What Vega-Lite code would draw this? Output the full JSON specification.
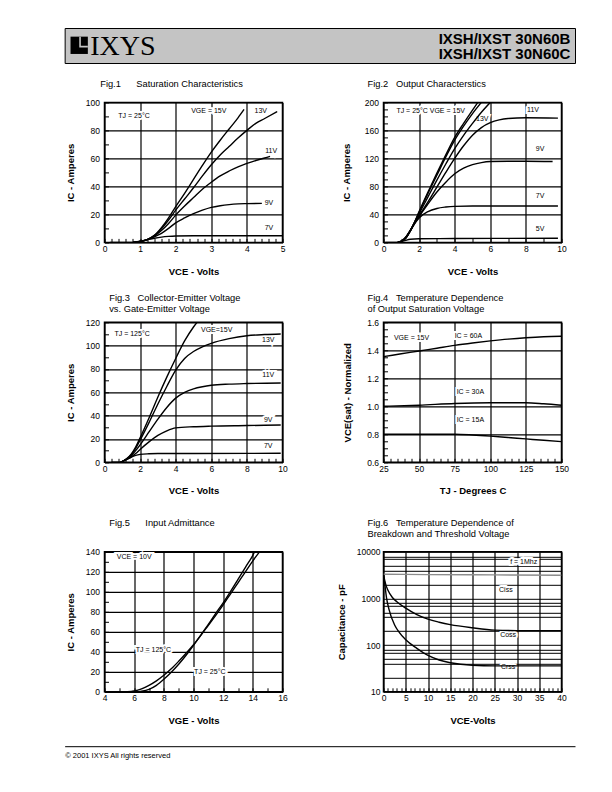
{
"$schema":"https://vega.github.io/schema/vega-lite/v6.json",
"background":"white",
"padding":{"left":64.5,"top":27.5,"right":0,"bottom":0},
"spacing":14.9,
"datasets":{
"f1":[
{"s":"15V","x":0.15,"y":0},{"s":"15V","x":0.8,"y":0},{"s":"15V","x":1.0,"y":0.6},{"s":"15V","x":1.2,"y":2},{"s":"15V","x":1.4,"y":5},{"s":"15V","x":1.6,"y":10.5},{"s":"15V","x":1.8,"y":17.5},{"s":"15V","x":2.0,"y":25.5},{"s":"15V","x":2.25,"y":35},{"s":"15V","x":2.5,"y":45},{"s":"15V","x":2.75,"y":55},{"s":"15V","x":3.0,"y":64.5},{"s":"15V","x":3.25,"y":73},{"s":"15V","x":3.5,"y":81},{"s":"15V","x":3.75,"y":89},{"s":"15V","x":3.92,"y":95},
{"s":"13V","x":0.8,"y":0},{"s":"13V","x":1.0,"y":0.6},{"s":"13V","x":1.2,"y":2},{"s":"13V","x":1.4,"y":4.8},{"s":"13V","x":1.6,"y":9.8},{"s":"13V","x":1.8,"y":16},{"s":"13V","x":2.0,"y":23},{"s":"13V","x":2.25,"y":31},{"s":"13V","x":2.5,"y":39},{"s":"13V","x":2.75,"y":47.5},{"s":"13V","x":3.0,"y":55.5},{"s":"13V","x":3.25,"y":62.5},{"s":"13V","x":3.5,"y":68.5},{"s":"13V","x":3.75,"y":74.5},{"s":"13V","x":4.0,"y":80},{"s":"13V","x":4.25,"y":85},{"s":"13V","x":4.5,"y":88.5},{"s":"13V","x":4.85,"y":93.5},
{"s":"11V","x":0.8,"y":0},{"s":"11V","x":1.0,"y":0.6},{"s":"11V","x":1.2,"y":2},{"s":"11V","x":1.4,"y":4.5},{"s":"11V","x":1.6,"y":8.5},{"s":"11V","x":1.8,"y":13.5},{"s":"11V","x":2.0,"y":19.5},{"s":"11V","x":2.25,"y":26},{"s":"11V","x":2.5,"y":32},{"s":"11V","x":2.75,"y":38},{"s":"11V","x":3.0,"y":43},{"s":"11V","x":3.25,"y":47.5},{"s":"11V","x":3.5,"y":51},{"s":"11V","x":3.75,"y":54},{"s":"11V","x":4.0,"y":56.5},{"s":"11V","x":4.25,"y":58.5},{"s":"11V","x":4.5,"y":60.3},{"s":"11V","x":4.65,"y":61.5},
{"s":"9V","x":0.8,"y":0},{"s":"9V","x":1.0,"y":0.6},{"s":"9V","x":1.2,"y":2},{"s":"9V","x":1.4,"y":4},{"s":"9V","x":1.6,"y":6.5},{"s":"9V","x":1.8,"y":10},{"s":"9V","x":2.0,"y":14},{"s":"9V","x":2.25,"y":17.5},{"s":"9V","x":2.5,"y":20.5},{"s":"9V","x":2.75,"y":23},{"s":"9V","x":3.0,"y":25},{"s":"9V","x":3.25,"y":26.2},{"s":"9V","x":3.5,"y":27},{"s":"9V","x":3.75,"y":27.5},{"s":"9V","x":4.0,"y":27.7},{"s":"9V","x":4.42,"y":27.9},
{"s":"7V","x":0.8,"y":0},{"s":"7V","x":1.0,"y":0.8},{"s":"7V","x":1.2,"y":2},{"s":"7V","x":1.4,"y":3},{"s":"7V","x":1.6,"y":3.8},{"s":"7V","x":1.8,"y":4.3},{"s":"7V","x":2.0,"y":4.6},{"s":"7V","x":2.5,"y":4.8},{"s":"7V","x":3.0,"y":4.8},{"s":"7V","x":4.0,"y":4.8},{"s":"7V","x":5.0,"y":4.8}
],
"f1t":[
{"label":"TJ = 25°C","x":0.83,"y":90.5},{"label":"VGE = 15V","x":2.93,"y":93.6},{"label":"13V","x":4.39,"y":93.6},{"label":"11V","x":4.68,"y":65.6},{"label":"9V","x":4.62,"y":28.5},{"label":"7V","x":4.62,"y":10}
],
"f2":[
{"s":"a","x":0.1,"y":0},{"s":"a","x":0.8,"y":0},{"s":"a","x":1.0,"y":1.5},{"s":"a","x":1.25,"y":6},{"s":"a","x":1.5,"y":16},{"s":"a","x":1.75,"y":29},{"s":"a","x":2.0,"y":44},{"s":"a","x":2.5,"y":72},{"s":"a","x":3.0,"y":99},{"s":"a","x":3.5,"y":125},{"s":"a","x":4.0,"y":150},{"s":"a","x":4.5,"y":170},{"s":"a","x":5.0,"y":189},{"s":"a","x":5.3,"y":200},
{"s":"b","x":0.8,"y":0},{"s":"b","x":1.0,"y":1.5},{"s":"b","x":1.25,"y":6},{"s":"b","x":1.5,"y":16},{"s":"b","x":1.75,"y":29},{"s":"b","x":2.0,"y":43},{"s":"b","x":2.5,"y":70},{"s":"b","x":3.0,"y":96},{"s":"b","x":3.5,"y":122},{"s":"b","x":4.0,"y":146},{"s":"b","x":4.5,"y":166},{"s":"b","x":5.0,"y":184},{"s":"b","x":5.5,"y":200},
{"s":"13V","x":0.8,"y":0},{"s":"13V","x":1.0,"y":1.5},{"s":"13V","x":1.25,"y":6.5},{"s":"13V","x":1.5,"y":16.5},{"s":"13V","x":1.75,"y":29},{"s":"13V","x":2.0,"y":41},{"s":"13V","x":2.5,"y":65},{"s":"13V","x":3.0,"y":89},{"s":"13V","x":3.5,"y":112},{"s":"13V","x":4.0,"y":134},{"s":"13V","x":4.5,"y":153},{"s":"13V","x":5.0,"y":170},{"s":"13V","x":5.5,"y":186},{"s":"13V","x":6.0,"y":200},
{"s":"11V","x":0.8,"y":0},{"s":"11V","x":1.0,"y":1.6},{"s":"11V","x":1.25,"y":7},{"s":"11V","x":1.5,"y":17},{"s":"11V","x":1.75,"y":28},{"s":"11V","x":2.0,"y":38},{"s":"11V","x":2.5,"y":58},{"s":"11V","x":3.0,"y":79},{"s":"11V","x":3.5,"y":100},{"s":"11V","x":4.0,"y":120},{"s":"11V","x":4.5,"y":138},{"s":"11V","x":5.0,"y":153},{"s":"11V","x":5.5,"y":164},{"s":"11V","x":6.0,"y":171},{"s":"11V","x":6.5,"y":175},{"s":"11V","x":7.0,"y":177},{"s":"11V","x":8.0,"y":178},{"s":"11V","x":9.8,"y":177.5},
{"s":"9V","x":0.8,"y":0},{"s":"9V","x":1.0,"y":1.7},{"s":"9V","x":1.25,"y":7.5},{"s":"9V","x":1.5,"y":17},{"s":"9V","x":1.75,"y":27},{"s":"9V","x":2.0,"y":37},{"s":"9V","x":2.5,"y":55},{"s":"9V","x":3.0,"y":72},{"s":"9V","x":3.5,"y":86},{"s":"9V","x":4.0,"y":98},{"s":"9V","x":4.5,"y":106},{"s":"9V","x":5.0,"y":111},{"s":"9V","x":5.5,"y":114},{"s":"9V","x":6.0,"y":115.5},{"s":"9V","x":7.0,"y":116},{"s":"9V","x":8.0,"y":116},{"s":"9V","x":9.5,"y":115.5},
{"s":"7V","x":0.8,"y":0},{"s":"7V","x":1.0,"y":1.8},{"s":"7V","x":1.25,"y":7.5},{"s":"7V","x":1.5,"y":16},{"s":"7V","x":1.75,"y":27},{"s":"7V","x":2.0,"y":35},{"s":"7V","x":2.5,"y":44},{"s":"7V","x":3.0,"y":48.5},{"s":"7V","x":3.5,"y":50.5},{"s":"7V","x":4.0,"y":51.5},{"s":"7V","x":5.0,"y":52},{"s":"7V","x":7.0,"y":52},{"s":"7V","x":9.8,"y":52},
{"s":"5V","x":0.8,"y":0},{"s":"5V","x":1.0,"y":1},{"s":"5V","x":1.25,"y":3},{"s":"5V","x":1.5,"y":4.5},{"s":"5V","x":2.0,"y":5.2},{"s":"5V","x":4.0,"y":5.5},{"s":"5V","x":9.8,"y":6}
],
"f2t":[
{"label":"TJ = 25°C VGE = 15V","x":2.65,"y":188},{"label":"13V","x":5.55,"y":176},{"label":"11V","x":8.4,"y":189},{"label":"9V","x":8.8,"y":133},{"label":"7V","x":8.8,"y":66.5},{"label":"5V","x":8.8,"y":18.6}
],
"f3":[
{"s":"15V","x":0.4,"y":0},{"s":"15V","x":0.9,"y":0},{"s":"15V","x":1.2,"y":2.5},{"s":"15V","x":1.5,"y":7},{"s":"15V","x":1.75,"y":13},{"s":"15V","x":2.0,"y":21},{"s":"15V","x":2.5,"y":38},{"s":"15V","x":3.0,"y":56},{"s":"15V","x":3.5,"y":73},{"s":"15V","x":4.0,"y":89},{"s":"15V","x":4.5,"y":104},{"s":"15V","x":5.0,"y":116},{"s":"15V","x":5.2,"y":120},
{"s":"13V","x":0.9,"y":0},{"s":"13V","x":1.2,"y":2.4},{"s":"13V","x":1.5,"y":6.5},{"s":"13V","x":1.75,"y":12},{"s":"13V","x":2.0,"y":19},{"s":"13V","x":2.5,"y":34},{"s":"13V","x":3.0,"y":50},{"s":"13V","x":3.5,"y":65},{"s":"13V","x":4.0,"y":79},{"s":"13V","x":4.5,"y":89},{"s":"13V","x":5.0,"y":95},{"s":"13V","x":5.5,"y":99},{"s":"13V","x":6.0,"y":102},{"s":"13V","x":7.0,"y":106},{"s":"13V","x":8.0,"y":108.5},{"s":"13V","x":9.0,"y":109.5},{"s":"13V","x":9.9,"y":110},
{"s":"11V","x":0.9,"y":0},{"s":"11V","x":1.2,"y":2.3},{"s":"11V","x":1.5,"y":5.5},{"s":"11V","x":1.75,"y":10},{"s":"11V","x":2.0,"y":15},{"s":"11V","x":2.5,"y":26},{"s":"11V","x":3.0,"y":37},{"s":"11V","x":3.5,"y":47},{"s":"11V","x":4.0,"y":55},{"s":"11V","x":4.5,"y":60},{"s":"11V","x":5.0,"y":63},{"s":"11V","x":5.5,"y":64.8},{"s":"11V","x":6.0,"y":66},{"s":"11V","x":7.0,"y":67},{"s":"11V","x":8.0,"y":67.5},{"s":"11V","x":9.9,"y":68},
{"s":"9V","x":0.9,"y":0},{"s":"9V","x":1.2,"y":2.2},{"s":"9V","x":1.5,"y":4.5},{"s":"9V","x":1.75,"y":7.5},{"s":"9V","x":2.0,"y":11},{"s":"9V","x":2.5,"y":17.5},{"s":"9V","x":3.0,"y":23},{"s":"9V","x":3.5,"y":27},{"s":"9V","x":4.0,"y":29.5},{"s":"9V","x":5.0,"y":30.5},{"s":"9V","x":6.0,"y":31},{"s":"9V","x":8.0,"y":31.5},{"s":"9V","x":9.9,"y":32},
{"s":"7V","x":0.9,"y":0},{"s":"7V","x":1.2,"y":2},{"s":"7V","x":1.5,"y":4.5},{"s":"7V","x":1.75,"y":6},{"s":"7V","x":2.0,"y":6.8},{"s":"7V","x":2.5,"y":7.3},{"s":"7V","x":3.0,"y":7.5},{"s":"7V","x":5.0,"y":7.5},{"s":"7V","x":9.9,"y":7.8}
],
"f3t":[
{"label":"TJ = 125°C","x":1.55,"y":110},{"label":"VGE=15V","x":6.3,"y":113},{"label":"13V","x":9.2,"y":104.6},{"label":"11V","x":9.2,"y":74.6},{"label":"9V","x":9.2,"y":36},{"label":"7V","x":9.2,"y":13.7}
],
"f4":[
{"s":"60A","x":25,"y":1.355},{"s":"60A","x":37.5,"y":1.375},{"s":"60A","x":50,"y":1.395},{"s":"60A","x":62.5,"y":1.415},{"s":"60A","x":75,"y":1.435},{"s":"60A","x":87.5,"y":1.452},{"s":"60A","x":100,"y":1.467},{"s":"60A","x":112.5,"y":1.48},{"s":"60A","x":125,"y":1.49},{"s":"60A","x":137.5,"y":1.497},{"s":"60A","x":150,"y":1.5},
{"s":"30A","x":25,"y":1.0},{"s":"30A","x":50,"y":1.008},{"s":"30A","x":75,"y":1.02},{"s":"30A","x":100,"y":1.025},{"s":"30A","x":125,"y":1.025},{"s":"30A","x":137.5,"y":1.018},{"s":"30A","x":150,"y":1.008},
{"s":"15A","x":25,"y":0.8},{"s":"15A","x":50,"y":0.8},{"s":"15A","x":75,"y":0.8},{"s":"15A","x":87.5,"y":0.795},{"s":"15A","x":100,"y":0.787},{"s":"15A","x":112.5,"y":0.777},{"s":"15A","x":125,"y":0.767},{"s":"15A","x":137.5,"y":0.757},{"s":"15A","x":150,"y":0.748}
],
"f4t":[
{"label":"VGE = 15V","x":44.7,"y":1.485},{"label":"IC = 60A","x":84.6,"y":1.5},{"label":"IC = 30A","x":86,"y":1.105},{"label":"IC = 15A","x":86,"y":0.9}
],
"f5":[
{"s":"125C","x":4.4,"y":0},{"s":"125C","x":5.3,"y":0},{"s":"125C","x":5.8,"y":0.3},{"s":"125C","x":6,"y":0.8},{"s":"125C","x":6.5,"y":3},{"s":"125C","x":7,"y":6.5},{"s":"125C","x":7.5,"y":11},{"s":"125C","x":8,"y":16.5},{"s":"125C","x":8.5,"y":23},{"s":"125C","x":9,"y":30.5},{"s":"125C","x":9.5,"y":38.5},{"s":"125C","x":10,"y":47},{"s":"125C","x":10.5,"y":56.5},{"s":"125C","x":11,"y":66.5},{"s":"125C","x":11.5,"y":76.5},{"s":"125C","x":12,"y":87},{"s":"125C","x":12.5,"y":98},{"s":"125C","x":13,"y":109},{"s":"125C","x":13.5,"y":120},{"s":"125C","x":14,"y":131},{"s":"125C","x":14.45,"y":140},
{"s":"25C","x":6.3,"y":0},{"s":"25C","x":6.5,"y":0.5},{"s":"25C","x":7,"y":2.5},{"s":"25C","x":7.5,"y":6.5},{"s":"25C","x":8,"y":12.5},{"s":"25C","x":8.5,"y":19.5},{"s":"25C","x":9,"y":27.5},{"s":"25C","x":9.5,"y":36.5},{"s":"25C","x":10,"y":46.5},{"s":"25C","x":10.5,"y":57},{"s":"25C","x":11,"y":67.5},{"s":"25C","x":11.5,"y":78.5},{"s":"25C","x":12,"y":89},{"s":"25C","x":12.5,"y":100.5},{"s":"25C","x":13,"y":112.5},{"s":"25C","x":13.5,"y":124.5},{"s":"25C","x":14,"y":136.5},{"s":"25C","x":14.12,"y":140}
],
"f5t":[
{"label":"VCE = 10V","x":6.0,"y":135},{"label":"TJ = 125°C","x":7.3,"y":41.5},{"label":"TJ = 25°C","x":11.1,"y":19.5}
],
"f6":[
{"s":"Ciss","x":0,"y":3300},{"s":"Ciss","x":10,"y":3250},{"s":"Ciss","x":25,"y":3200},{"s":"Ciss","x":40,"y":3150},
{"s":"Coss","x":0,"y":3200},{"s":"Coss","x":0.5,"y":2000},{"s":"Coss","x":1,"y":1500},{"s":"Coss","x":2,"y":1050},{"s":"Coss","x":3,"y":850},{"s":"Coss","x":5,"y":620},{"s":"Coss","x":7.5,"y":450},{"s":"Coss","x":10,"y":360},{"s":"Coss","x":12.5,"y":310},{"s":"Coss","x":15,"y":275},{"s":"Coss","x":20,"y":235},{"s":"Coss","x":25,"y":210},{"s":"Coss","x":30,"y":205},{"s":"Coss","x":40,"y":205},
{"s":"Crss","x":0,"y":3200},{"s":"Crss","x":0.3,"y":2000},{"s":"Crss","x":0.7,"y":1000},{"s":"Crss","x":1.2,"y":600},{"s":"Crss","x":2.5,"y":270},{"s":"Crss","x":3.5,"y":190},{"s":"Crss","x":5,"y":130},{"s":"Crss","x":7.5,"y":85},{"s":"Crss","x":10,"y":60},{"s":"Crss","x":12.5,"y":48},{"s":"Crss","x":15,"y":42},{"s":"Crss","x":20,"y":37},{"s":"Crss","x":25,"y":36},{"s":"Crss","x":40,"y":36}
],
"f6t":[
{"label":"f = 1Mhz","x":31.5,"y":5900},{"label":"Ciss","x":27.5,"y":1500},{"label":"Coss","x":28,"y":164},{"label":"Crss","x":28,"y":34}
]
},
"vconcat":[
{
"width":471,"height":35,
"view":{"stroke":null},
"data":{"values":[{"logo":"IXYS"}]},
"layer":[
{"mark":{"type":"rect","fill":"#c4c4c4","stroke":"black","strokeWidth":1},
 "encoding":{"x":{"datum":0,"type":"quantitative","scale":{"domain":[0.0771,1],"nice":false,"zero":false},"axis":null},"x2":{"datum":1},"y":{"datum":0,"type":"quantitative","scale":{"domain":[0,1],"nice":false},"axis":null},"y2":{"datum":1}}},
{"mark":{"type":"point","shape":"square","filled":true,"color":"black","size":300,"opacity":1},
 "encoding":{"x":{"datum":0.0275,"type":"quantitative"},"y":{"datum":0.52,"type":"quantitative"}}},
{"mark":{"type":"point","shape":"M0.1,-1L0.1,0.15L1,0.15","filled":false,"stroke":"#c4c4c4","strokeWidth":1.6,"size":300,"opacity":1},
 "encoding":{"x":{"datum":0.0275,"type":"quantitative"},"y":{"datum":0.52,"type":"quantitative"}}},
{"mark":{"type":"text","font":"Liberation Serif","fontSize":28,"align":"left","baseline":"alphabetic","color":"black"},
 "encoding":{"x":{"datum":0.049,"type":"quantitative"},"y":{"datum":0.257,"type":"quantitative"},"text":{"field":"logo"}}},
{"mark":{"type":"text","font":"Liberation Sans","fontSize":15,"fontWeight":"bold","align":"right","baseline":"alphabetic","color":"black","text":"IXSH/IXST 30N60B"},
 "encoding":{"x":{"datum":0.99,"type":"quantitative"},"y":{"datum":0.563,"type":"quantitative"}}},
{"mark":{"type":"text","font":"Liberation Sans","fontSize":15,"fontWeight":"bold","align":"right","baseline":"alphabetic","color":"black","text":"IXSH/IXST 30N60C"},
 "encoding":{"x":{"datum":0.99,"type":"quantitative"},"y":{"datum":0.12,"type":"quantitative"}}}
]
},
{
"hconcat":[
{
"width":178,"height":140,
"title":{"text":"Fig.1\u00a0\u00a0\u00a0\u00a0\u00a0\u00a0Saturation Characteristics","dx":-4.3,"offset":8.7},
"encoding":{
"x":{"field":"x","type":"quantitative","scale":{"domain":[0,5],"nice":false,"zero":false},
 "axis":{"values":[0,0.2,0.4,0.6,0.8,1,1.2,1.4,1.6,1.8,2,2.2,2.4,2.6,2.8,3,3.2,3.4,3.6,3.8,4,4.2,4.4,4.6,4.8,5],"labelOverlap":false,
 "labelExpr":"abs(datum.value-round(datum.value))<0.001 ? format(datum.value,'d') : ''",
 "gridOpacity":{"condition":{"test":"abs(datum.value-round(datum.value))<0.001","value":1},"value":0},
 "title":"VCE - Volts","titleY":32.5}},
"y":{"field":"y","type":"quantitative","scale":{"domain":[0,100],"nice":false,"zero":false},
 "axis":{"values":[0,10,20,30,40,50,60,70,80,90,100],"format":"d","labelOverlap":false,
 "labelExpr":"datum.value%20==0 ? datum.label : ''",
 "gridOpacity":{"condition":{"test":"datum.value%20==0","value":1},"value":0},
 "title":"IC - Amperes","titleX":-31}}
},
"layer":[
{"data":{"name":"f1t"},"mark":{"type":"text","fontSize":7,"fill":"white","stroke":"white","strokeWidth":4},"encoding":{"text":{"field":"label"}}},
{"data":{"name":"f1"},"mark":{"type":"line","color":"black","strokeWidth":1.4,"interpolate":"monotone","clip":true},"encoding":{"detail":{"field":"s","type":"nominal"}}},
{"data":{"name":"f1t"},"mark":{"type":"text","fontSize":7,"color":"black"},"encoding":{"text":{"field":"label"}}}
]
},
{
"width":178,"height":140,
"title":{"text":"Fig.2\u00a0\u00a0\u00a0Output Characterstics","dx":-16,"offset":8.7},
"encoding":{
"x":{"field":"x","type":"quantitative","scale":{"domain":[0,10],"nice":false,"zero":false},
 "axis":{"values":[0,0.25,0.5,0.75,1,1.25,1.5,1.75,2,2.25,2.5,2.75,3,3.25,3.5,3.75,4,4.25,4.5,4.75,5,5.25,5.5,5.75,6,6.25,6.5,6.75,7,7.25,7.5,7.75,8,8.25,8.5,8.75,9,9.25,9.5,9.75,10],"format":"d","labelOverlap":false,
 "labelExpr":"datum.value%2==0 ? datum.label : ''",
 "gridOpacity":{"condition":{"test":"datum.value%2==0","value":1},"value":0},
 "title":"VCE - Volts","titleY":32.5}},
"y":{"field":"y","type":"quantitative","scale":{"domain":[0,200],"nice":false,"zero":false},
 "axis":{"values":[0,10,20,30,40,50,60,70,80,90,100,110,120,130,140,150,160,170,180,190,200],"format":"d","labelOverlap":false,
 "labelExpr":"datum.value%40==0 ? datum.label : ''",
 "gridOpacity":{"condition":{"test":"datum.value%40==0","value":1},"value":0},
 "title":"IC - Amperes","titleX":-34.5}}
},
"layer":[
{"data":{"name":"f2t"},"mark":{"type":"text","fontSize":7,"fill":"white","stroke":"white","strokeWidth":4},"encoding":{"text":{"field":"label"}}},
{"data":{"name":"f2"},"mark":{"type":"line","color":"black","strokeWidth":1.4,"interpolate":"monotone","clip":true},"encoding":{"detail":{"field":"s","type":"nominal"}}},
{"data":{"name":"f2t"},"mark":{"type":"text","fontSize":7,"color":"black"},"encoding":{"text":{"field":"label"}}}
]
}
],
"spacing":101,
"bounds":"flush"
},
{
"concat":[
{
"width":178,"height":140,
"title":{"text":["Fig.3\u00a0\u00a0\u00a0Collector-Emitter Voltage","\u00a0\u00a0\u00a0\u00a0\u00a0\u00a0\u00a0\u00a0\u00a0\u00a0\u00a0vs. Gate-Emitter Voltage"],"dx":4.7,"offset":4.2},
"encoding":{
"x":{"field":"x","type":"quantitative","scale":{"domain":[0,10],"nice":false,"zero":false},
 "axis":{"values":[0,0.4,0.8,1.2,1.6,2,2.4,2.8,3.2,3.6,4,4.4,4.8,5.2,5.6,6,6.4,6.8,7.2,7.6,8,8.4,8.8,9.2,9.6,10],"labelOverlap":false,
 "labelExpr":"abs(datum.value/2-round(datum.value/2))<0.001 ? format(datum.value,'d') : ''",
 "gridOpacity":{"condition":{"test":"abs(datum.value/2-round(datum.value/2))<0.001","value":1},"value":0},
 "title":"VCE - Volts","titleY":31}},
"y":{"field":"y","type":"quantitative","scale":{"domain":[0,120],"nice":false,"zero":false},
 "axis":{"values":[0,10,20,30,40,50,60,70,80,90,100,110,120],"format":"d","labelOverlap":false,
 "labelExpr":"datum.value%20==0 ? datum.label : ''",
 "gridOpacity":{"condition":{"test":"datum.value%20==0","value":1},"value":0},
 "title":"IC - Amperes","titleX":-31}}
},
"layer":[
{"data":{"name":"f3t"},"mark":{"type":"text","fontSize":7,"fill":"white","stroke":"white","strokeWidth":4},"encoding":{"text":{"field":"label"}}},
{"data":{"name":"f3"},"mark":{"type":"line","color":"black","strokeWidth":1.4,"interpolate":"monotone","clip":true},"encoding":{"detail":{"field":"s","type":"nominal"}}},
{"data":{"name":"f3t"},"mark":{"type":"text","fontSize":7,"color":"black"},"encoding":{"text":{"field":"label"}}}
]
},
{
"width":178,"height":140,
"title":{"text":["Fig.4\u00a0\u00a0\u00a0Temperature Dependence","\u00a0\u00a0\u00a0\u00a0\u00a0\u00a0\u00a0\u00a0\u00a0\u00a0\u00a0of Output Saturation Voltage"],"dx":-16,"offset":4.2},
"encoding":{
"x":{"field":"x","type":"quantitative","scale":{"domain":[25,150],"nice":false,"zero":false},
 "axis":{"values":[25,30,35,40,45,50,55,60,65,70,75,80,85,90,95,100,105,110,115,120,125,130,135,140,145,150],"format":"d","labelOverlap":false,
 "labelExpr":"datum.value%25==0 ? datum.label : ''",
 "gridOpacity":{"condition":{"test":"datum.value%25==0","value":1},"value":0},
 "title":"TJ - Degrees C","titleY":31}},
"y":{"field":"y","type":"quantitative","scale":{"domain":[0.6,1.6],"nice":false,"zero":false},
 "axis":{"values":[0.6,0.65,0.7,0.75,0.8,0.85,0.9,0.95,1.0,1.05,1.1,1.15,1.2,1.25,1.3,1.35,1.4,1.45,1.5,1.55,1.6],"format":".1f","labelOverlap":false,
 "labelExpr":"abs(datum.value*5-round(datum.value*5))<0.001 ? datum.label : ''",
 "gridOpacity":{"condition":{"test":"abs(datum.value*5-round(datum.value*5))<0.001","value":1},"value":0},
 "title":"VCE(sat) - Normalized","titleX":-33}}
},
"layer":[
{"data":{"name":"f4t"},"mark":{"type":"text","fontSize":7,"fill":"white","stroke":"white","strokeWidth":4},"encoding":{"text":{"field":"label"}}},
{"data":{"name":"f4"},"mark":{"type":"line","color":"black","strokeWidth":1.4,"interpolate":"monotone","clip":true},"encoding":{"detail":{"field":"s","type":"nominal"}}},
{"data":{"name":"f4t"},"mark":{"type":"text","fontSize":7,"color":"black"},"encoding":{"text":{"field":"label"}}}
]
},
{
"width":178,"height":140,
"title":{"text":"Fig.5\u00a0\u00a0\u00a0\u00a0\u00a0\u00a0Input Admittance","dx":4.7,"offset":20},
"encoding":{
"x":{"field":"x","type":"quantitative","scale":{"domain":[4,16],"nice":false,"zero":false},
 "axis":{"values":[4,4.5,5,5.5,6,6.5,7,7.5,8,8.5,9,9.5,10,10.5,11,11.5,12,12.5,13,13.5,14,14.5,15,15.5,16],"format":"d","labelOverlap":false,
 "labelExpr":"datum.value%2==0 ? datum.label : ''",
 "gridOpacity":{"condition":{"test":"datum.value%2==0","value":1},"value":0},
 "title":"VGE - Volts","titleY":31.5}},
"y":{"field":"y","type":"quantitative","scale":{"domain":[0,140],"nice":false,"zero":false},
 "axis":{"values":[0,10,20,30,40,50,60,70,80,90,100,110,120,130,140],"format":"d","labelOverlap":false,
 "labelExpr":"datum.value%20==0 ? datum.label : ''",
 "gridOpacity":{"condition":{"test":"datum.value%20==0","value":1},"value":0},
 "title":"IC - Amperes","titleX":-31}}
},
"layer":[
{"data":{"name":"f5t"},"mark":{"type":"text","fontSize":7,"fill":"white","stroke":"white","strokeWidth":4},"encoding":{"text":{"field":"label"}}},
{"data":{"name":"f5"},"mark":{"type":"line","color":"black","strokeWidth":1.4,"interpolate":"monotone","clip":true},"encoding":{"detail":{"field":"s","type":"nominal"}}},
{"data":{"name":"f5t"},"mark":{"type":"text","fontSize":7,"color":"black"},"encoding":{"text":{"field":"label"}}}
]
},
{
"width":178,"height":140,
"title":{"text":["Fig.6\u00a0\u00a0\u00a0Temperature Dependence of","\u00a0\u00a0\u00a0\u00a0\u00a0\u00a0\u00a0\u00a0\u00a0\u00a0\u00a0Breakdown and Threshold Voltage"],"dx":-16,"offset":8.7},
"encoding":{
"x":{"field":"x","type":"quantitative","scale":{"domain":[0,40],"nice":false,"zero":false},
 "axis":{"values":[0,1,2,3,4,5,6,7,8,9,10,11,12,13,14,15,16,17,18,19,20,21,22,23,24,25,26,27,28,29,30,31,32,33,34,35,36,37,38,39,40],"format":"d","labelOverlap":false,
 "labelExpr":"datum.value%5==0 ? datum.label : ''",
 "gridOpacity":{"condition":{"test":"datum.value%5==0","value":1},"value":0},
 "title":"VCE-Volts","titleY":31.5}},
"y":{"field":"y","type":"quantitative","scale":{"type":"log","domain":[10,10000],"nice":false,"zero":false},
 "axis":{"values":[10,20,40,50,70,80,100,200,400,500,700,800,1000,2000,4000,5000,7000,8000,10000],"format":"d","labelOverlap":false,
 "labelExpr":"indexof([10,100,1000,10000], datum.value) >= 0 ? datum.label : ''",
 "ticks":false,"labelPadding":3.5,"gridWidth":1,
 "title":"Capacitance - pF","titleX":-39.5}}
},
"layer":[
{"data":{"name":"f6t"},"mark":{"type":"text","fontSize":7,"fill":"white","stroke":"white","strokeWidth":4},"encoding":{"text":{"field":"label"}}},
{"data":{"name":"f6"},"mark":{"type":"line","strokeWidth":1.4,"interpolate":"monotone","clip":true},"encoding":{"color":{"field":"s","type":"nominal","scale":{"domain":["Ciss","Coss","Crss"],"range":["#8c8c8c","black","black"]},"legend":null}}},
{"data":{"name":"f6t"},"mark":{"type":"text","fontSize":7,"color":"black"},"encoding":{"text":{"field":"label"}}}
]
}
],
"columns":2,
"spacing":{"row":89.5,"column":101},
"bounds":"flush"
},
{
"width":471,"height":5.5,
"view":{"stroke":null},
"data":{"values":[{"note":"footer"}]},
"title":{"text":"© 2001 IXYS All rights reserved","orient":"bottom","anchor":"start","fontSize":7.5,"offset":4.5,"dx":-39.3,"frame":"group"},
"mark":{"type":"rule","color":"black","strokeWidth":1},
"encoding":{"x":{"datum":0,"type":"quantitative","scale":{"domain":[0.0771,1],"nice":false,"zero":false},"axis":null},"x2":{"datum":1},"y":{"datum":0,"type":"quantitative","scale":{"domain":[0,1]},"axis":null}}
}
],
"config":{
"font":"Liberation Sans",
"view":{"stroke":"black","strokeWidth":1.5},
"axis":{"grid":true,"gridColor":"black","gridWidth":1.2,"domain":false,"tickColor":"black","tickWidth":1,"tickSize":-4,
 "labelFont":"Liberation Sans","labelFontSize":8.5,"labelColor":"black","labelOverlap":false,"labelFlush":false,"labelBound":false,
 "titleFont":"Liberation Sans","titleFontSize":9.5,"titleFontWeight":"bold","titleColor":"black","titleBaseline":"alphabetic"},
"axisX":{"labelPadding":6},
"axisY":{"labelPadding":9},
"title":{"font":"Liberation Sans","fontSize":9.3,"fontWeight":"normal","color":"black","anchor":"start","frame":"group","baseline":"alphabetic","lineHeight":11.3},
"text":{"font":"Liberation Sans"}
}
}
